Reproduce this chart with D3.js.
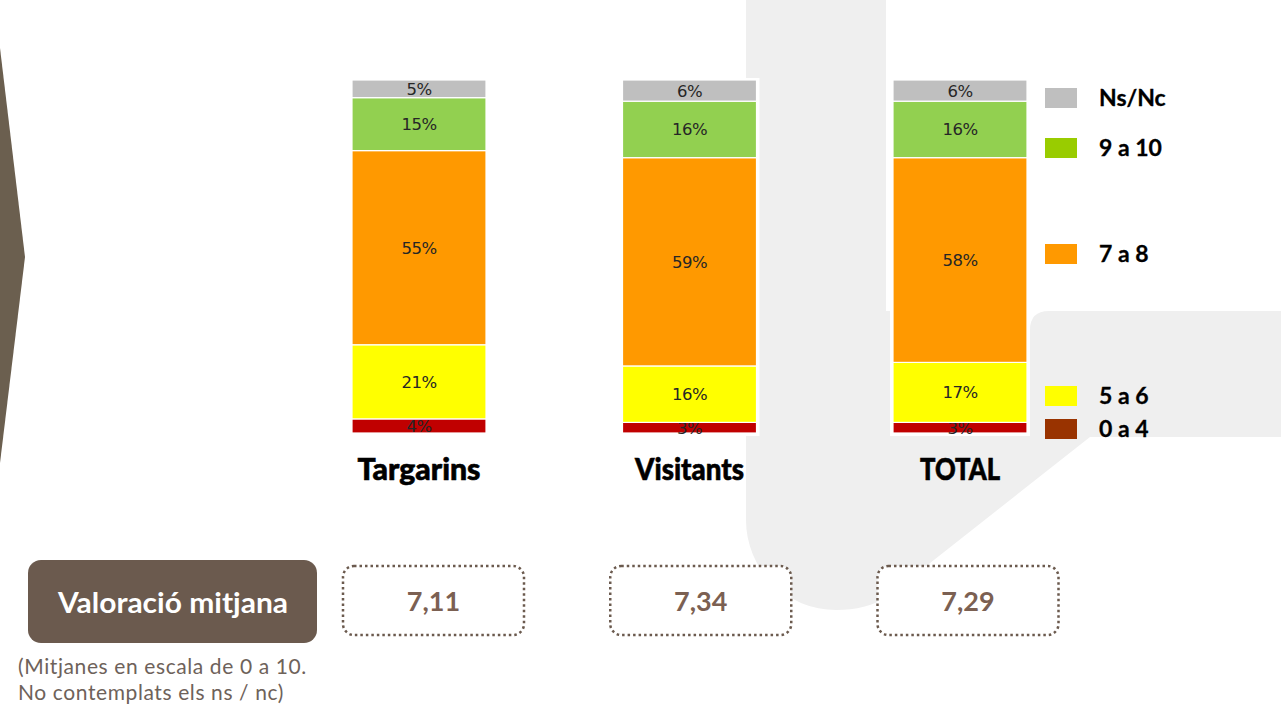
<!DOCTYPE html>
<html>
<head>
<meta charset="utf-8">
<script src="https://cdn.jsdelivr.net/npm/d3@7"></script>
<style>
  html, body { margin: 0; padding: 0; background: #ffffff; }
  svg { display: block; }
</style>
</head>
<body>
<svg id="chart" width="1281" height="709"></svg>
<script>
// ---------- data ----------
const categories = ["Targarins", "Visitants", "TOTAL"];
const seriesNames = ["0 a 4", "5 a 6", "7 a 8", "9 a 10", "Ns/Nc"];
const values04 = [4, 3, 3];
const values56 = [21, 16, 17];
const values78 = [55, 59, 58];
const values910 = [15, 16, 16];
const valuesNsNc = [5, 6, 6];
const meanScores = ["7,11", "7,34", "7,29"];
const meanTitle = "Valoració mitjana";
const footnoteLines = ["(Mitjanes en escala de 0 a 10.", "No contemplats els ns / nc)"];

// ---------- styles ----------
const barColors = { "0 a 4": "#c00000", "5 a 6": "#ffff00", "7 a 8": "#ff9900", "9 a 10": "#92d050", "Ns/Nc": "#bfbfbf" };
const legendColors = { "0 a 4": "#993300", "5 a 6": "#ffff00", "7 a 8": "#ff9900", "9 a 10": "#99cc00", "Ns/Nc": "#bfbfbf" };
const legendOrder = ["Ns/Nc", "9 a 10", "7 a 8", "5 a 6", "0 a 4"];
const legendY = { "Ns/Nc": 98, "9 a 10": 148, "7 a 8": 254, "5 a 6": 396, "0 a 4": 429 };
const catLabelWidth = { "Targarins": 123, "Visitants": 109, "TOTAL": 80 };
const brown = "#6b5a4e";

const seriesValues = { "0 a 4": values04, "5 a 6": values56, "7 a 8": values78, "9 a 10": values910, "Ns/Nc": valuesNsNc };
const table = categories.map((c, i) => {
  const row = { cat: c };
  seriesNames.forEach(s => row[s] = seriesValues[s][i]);
  return row;
});

const svg = d3.select("#chart");

// ---------- background decoration ----------
svg.append("path")
  .attr("d", "M746,0 H886 V311 H1030 V330 Q1030,311 1049,311 H1281 V437 H1090 L887,597 Q866,610 836,610 A90,90 0 0 1 746,520 Z")
  .attr("fill", "#efefef");

svg.append("path")
  .attr("d", "M0,48 L25,257 L0,463 Z")
  .attr("fill", "#6b5f4f");

// ---------- scales ----------
const x = d3.scaleBand().domain(categories).range([352, 1027]).paddingInner(0.5046).paddingOuter(0);
const y = d3.scaleLinear().domain([0, 100]).range([433, 80]);
const xBox = d3.scalePoint().domain(categories).range([433.5, 968]);

const stack = d3.stack().keys(seriesNames);
const stacked = stack(table);

// white backing behind bars
svg.append("g").selectAll("rect")
  .data(categories)
  .join("rect")
  .attr("x", d => x(d) - 3)
  .attr("y", y(100) - 2)
  .attr("width", x.bandwidth() + 6)
  .attr("height", y(0) - y(100) + 5)
  .attr("fill", "#ffffff");

const layers = svg.append("g").selectAll("g")
  .data(stacked)
  .join("g")
  .attr("fill", d => barColors[d.key]);

layers.selectAll("rect")
  .data(d => d.map(p => ({ p, key: d.key })))
  .join("rect")
  .attr("x", d => x(d.p.data.cat))
  .attr("y", d => y(d.p[1]))
  .attr("width", x.bandwidth())
  .attr("height", d => y(d.p[0]) - y(d.p[1]))
  .attr("stroke", "#ffffff")
  .attr("stroke-width", 1.2);

layers.selectAll("text")
  .data(d => d.map(p => ({ p, key: d.key })))
  .join("text")
  .attr("x", d => x(d.p.data.cat) + x.bandwidth() / 2)
  .attr("y", d => (y(d.p[0]) + y(d.p[1])) / 2)
  .attr("dy", "0.36em")
  .attr("text-anchor", "middle")
  .attr("fill", "#262626")
  .attr("font-family", "'DejaVu Sans', sans-serif")
  .attr("font-size", 16.5)
  .attr("letter-spacing", -0.5)
  .text(d => (d.p[1] - d.p[0]) + "%");

// category labels
svg.append("g").selectAll("text")
  .data(categories)
  .join("text")
  .attr("x", d => x(d) + x.bandwidth() / 2)
  .attr("y", 480)
  .attr("text-anchor", "middle")
  .attr("font-family", "Lato, sans-serif")
  .attr("font-weight", 900)
  .attr("font-size", 30)
  .attr("fill", "#000000")
  .attr("stroke", "#000000")
  .attr("stroke-width", 0.6)
  .attr("textLength", d => catLabelWidth[d])
  .attr("lengthAdjust", "spacingAndGlyphs")
  .text(d => d);

// ---------- legend ----------
const legend = svg.append("g").selectAll("g")
  .data(legendOrder)
  .join("g")
  .attr("transform", d => `translate(1045,${legendY[d]})`);
legend.append("rect")
  .attr("x", 0).attr("y", -10).attr("width", 32).attr("height", 20)
  .attr("fill", d => legendColors[d]);
legend.append("text")
  .attr("x", 54).attr("y", 0).attr("dy", "0.36em")
  .attr("font-family", "Lato, sans-serif")
  .attr("font-weight", 700)
  .attr("font-size", 23)
  .attr("fill", "#000000")
  .attr("stroke", "#000000")
  .attr("stroke-width", 0.3)
  .text(d => d);

// ---------- mean scores ----------
svg.append("rect")
  .attr("x", 28).attr("y", 560).attr("width", 289).attr("height", 83)
  .attr("rx", 13).attr("ry", 13)
  .attr("fill", brown);
svg.append("text")
  .attr("x", 173).attr("y", 603).attr("dy", "0.36em")
  .attr("text-anchor", "middle")
  .attr("font-family", "Lato, sans-serif")
  .attr("font-weight", 700)
  .attr("font-size", 28)
  .attr("fill", "#ffffff")
  .attr("textLength", 230)
  .attr("lengthAdjust", "spacingAndGlyphs")
  .text(meanTitle);

const boxes = svg.append("g").selectAll("g")
  .data(categories.map((c, i) => ({ cat: c, v: meanScores[i] })))
  .join("g")
  .attr("transform", d => `translate(${xBox(d.cat)},600)`);
boxes.append("rect")
  .attr("x", -90.5).attr("y", -34).attr("width", 181).attr("height", 69)
  .attr("rx", 11).attr("ry", 11)
  .attr("fill", "#ffffff")
  .attr("stroke", "#6b5a4e")
  .attr("stroke-width", 2.5)
  .attr("stroke-dasharray", "2.5,3");
boxes.append("text")
  .attr("x", 0).attr("y", 1).attr("dy", "0.36em")
  .attr("text-anchor", "middle")
  .attr("font-family", "Lato, sans-serif")
  .attr("font-weight", 700)
  .attr("font-size", 27)
  .attr("fill", "#7b6052")
  .text(d => d.v);

// footnote
svg.append("g").selectAll("text")
  .data(footnoteLines)
  .join("text")
  .attr("x", 18)
  .attr("y", (d, i) => 674 + i * 26)
  .attr("font-family", "Lato, sans-serif")
  .attr("font-size", 21)
  .attr("letter-spacing", 0.6)
  .attr("fill", "#6e625a")
  .text(d => d);
</script>
</body>
</html>
